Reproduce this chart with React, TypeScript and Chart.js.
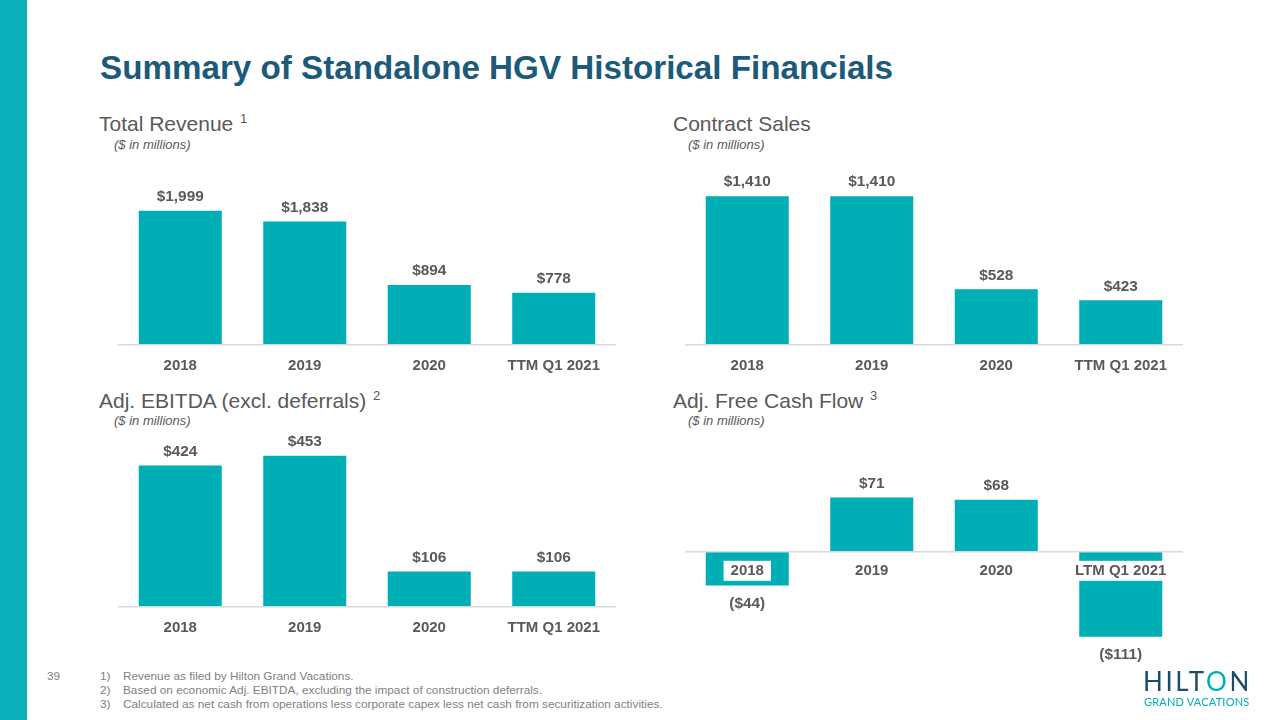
import React, { useEffect, useRef } from "react";
import { Chart, registerables } from "chart.js";

Chart.register(...registerables);

// ---- Data ----
const revenueCategories = ["2018", "2019", "2020", "TTM Q1 2021"];
const revenueValues = [1999, 1838, 894, 778];

const contractCategories = ["2018", "2019", "2020", "TTM Q1 2021"];
const contractValues = [1410, 1410, 528, 423];

const ebitdaCategories = ["2018", "2019", "2020", "TTM Q1 2021"];
const ebitdaValues = [424, 453, 106, 106];

const fcfCategories = ["2018", "2019", "2020", "LTM Q1 2021"];
const fcfValues = [-44, 71, 68, -111];

const footnotes = [
  "Revenue as filed by Hilton Grand Vacations.",
  "Based on economic Adj. EBITDA, excluding the impact of construction deferrals.",
  "Calculated as net cash from operations less corporate capex less net cash from securitization activities.",
];

// ---- Styles ----
const BAR = "#00AEB6";
const STRIP = "#0BB0BA";
const GRAY = "#595959";
const TITLE = "#1B5A7A";
const FONT = '"Liberation Sans", Arial, Helvetica, sans-serif';

function fmt(v: number): string {
  const s = "$" + Math.abs(v).toLocaleString("en-US");
  return v < 0 ? "(" + s + ")" : s;
}

const valueLabelPlugin = {
  id: "valueLabels",
  afterDatasetsDraw(chart: any) {
    const ctx = chart.ctx;
    const meta = chart.getDatasetMeta(0);
    const ds = chart.data.datasets[0];
    ctx.save();
    ctx.font = `bold 15.4px ${FONT}`;
    ctx.fillStyle = GRAY;
    ctx.textAlign = "center";
    ctx.textBaseline = "middle";
    meta.data.forEach((bar: any, i: number) => {
      const v = ds.data[i] as number;
      const y = v >= 0 ? bar.y - 14 : bar.y + 18;
      ctx.fillText(fmt(v), bar.x, y);
    });
    ctx.restore();
  },
};

type PanelProps = {
  left: number;
  top: number;
  width: number;
  height: number;
  categories: string[];
  values: number[];
  yMin: number;
  yMax: number;
  axisAtZero?: boolean;
  bottomPad?: number;
};

function BarPanel(p: PanelProps) {
  const ref = useRef<HTMLCanvasElement>(null);
  useEffect(() => {
    const chart = new Chart(ref.current as HTMLCanvasElement, {
      type: "bar",
      data: {
        labels: p.categories,
        datasets: [
          {
            data: p.values,
            backgroundColor: BAR,
            borderWidth: 0,
            categoryPercentage: 1,
            barPercentage: 0.667,
          },
        ],
      },
      options: {
        responsive: false,
        animation: false,
        devicePixelRatio: 1,
        layout: { padding: { top: 0, left: 0, right: 0, bottom: p.bottomPad || 0 } },
        plugins: { legend: { display: false }, tooltip: { enabled: false } },
        scales: {
          x: {
            position: p.axisAtZero ? ({ y: 0 } as any) : "bottom",
            grid: { display: false, drawTicks: false },
            border: { display: true, color: "#D9D9D9", width: 1.5, z: 1 },
            ticks: {
              z: 1,
              color: GRAY,
              font: { family: FONT, size: 15, weight: "bold" },
              padding: p.axisAtZero ? 10 : 12,
              maxRotation: 0,
              autoSkip: false,
              showLabelBackdrop: !!p.axisAtZero,
              backdropColor: "#FFFFFF",
              backdropPadding: { x: 7, y: 1 },
            } as any,
            afterFit: (s: any) => {
              s.height = p.axisAtZero ? 0 : 30;
            },
          },
          y: { display: false, min: p.yMin, max: p.yMax },
        },
      } as any,
      plugins: [valueLabelPlugin],
    });
    return () => chart.destroy();
  }, []);
  return (
    <canvas
      ref={ref}
      width={p.width}
      height={p.height}
      style={{ position: "absolute", left: p.left, top: p.top, width: p.width, height: p.height }}
    />
  );
}

function Txt(props: {
  x: number;
  baseline: number;
  size: number;
  children: React.ReactNode;
  color?: string;
  weight?: string | number;
  italic?: boolean;
  family?: string;
  spacing?: number;
}) {
  const top = props.baseline - 0.8465 * props.size;
  return (
    <div
      style={{
        position: "absolute",
        left: props.x,
        top,
        fontSize: props.size,
        lineHeight: 1,
        fontFamily: props.family || FONT,
        fontWeight: props.weight || "normal",
        fontStyle: props.italic ? "italic" : "normal",
        color: props.color || GRAY,
        whiteSpace: "nowrap",
        letterSpacing: props.spacing || 0,
      }}
    >
      {props.children}
    </div>
  );
}

function Sup({ n }: { n: string }) {
  return (
    <span style={{ fontSize: 13, position: "relative", top: -8, marginLeft: 1 }}>{n}</span>
  );
}

export default function App() {
  return (
    <div
      style={{
        position: "fixed",
        left: 0,
        top: 0,
        width: 1280,
        height: 720,
        background: "#FFFFFF",
        overflow: "hidden",
        fontFamily: FONT,
      }}
    >
      <div style={{ position: "absolute", left: 0, top: 0, width: 27, height: 720, background: STRIP }} />

      <Txt x={100} baseline={79.5} size={33.2} color={TITLE} weight="bold">
        Summary of Standalone HGV Historical Financials
      </Txt>

      <Txt x={99} baseline={131} size={21}>
        Total Revenue <Sup n="1" />
      </Txt>
      <Txt x={114} baseline={149} size={13} italic>
        ($ in millions)
      </Txt>

      <Txt x={673} baseline={131} size={21}>
        Contract Sales
      </Txt>
      <Txt x={688} baseline={149} size={13} italic>
        ($ in millions)
      </Txt>

      <Txt x={99} baseline={408} size={21}>
        Adj. EBITDA (excl. deferrals) <Sup n="2" />
      </Txt>
      <Txt x={114} baseline={425} size={13} italic>
        ($ in millions)
      </Txt>

      <Txt x={673} baseline={408} size={21}>
        Adj. Free Cash Flow <Sup n="3" />
      </Txt>
      <Txt x={688} baseline={425} size={13} italic>
        ($ in millions)
      </Txt>

      <BarPanel left={118} top={157} width={498} height={218} categories={revenueCategories} values={revenueValues} yMin={0} yMax={2800} />
      <BarPanel left={685} top={155} width={498} height={220} categories={contractCategories} values={contractValues} yMin={0} yMax={1800} />
      <BarPanel left={118} top={420} width={498} height={217} categories={ebitdaCategories} values={ebitdaValues} yMin={0} yMax={560} />
      <BarPanel left={685} top={437} width={498} height={245} bottomPad={23} categories={fcfCategories} values={fcfValues} yMin={-140} yMax={150} axisAtZero />

      <Txt x={47} baseline={681} size={11.8} color="#7F7F7F">
        39
      </Txt>
      {footnotes.map((f, i) => (
        <React.Fragment key={i}>
          <Txt x={100} baseline={681 + i * 14} size={11.8} color="#7F7F7F">
            {i + 1 + ")"}
          </Txt>
          <Txt x={123} baseline={681 + i * 14} size={11.8} color="#7F7F7F">
            {f}
          </Txt>
        </React.Fragment>
      ))}

      <Txt x={1143} baseline={690.5} size={26} family='Lato, "Open Sans", sans-serif' weight={400} color="#1C4B6C" spacing={2.6}>
        HILT<span style={{ color: BAR }}>O</span>N
      </Txt>
      <Txt x={1144} baseline={705} size={11} family='Lato, "Open Sans", sans-serif' weight={400} color={BAR} spacing={0.2}>
        GRAND VACATIONS
      </Txt>
    </div>
  );
}
